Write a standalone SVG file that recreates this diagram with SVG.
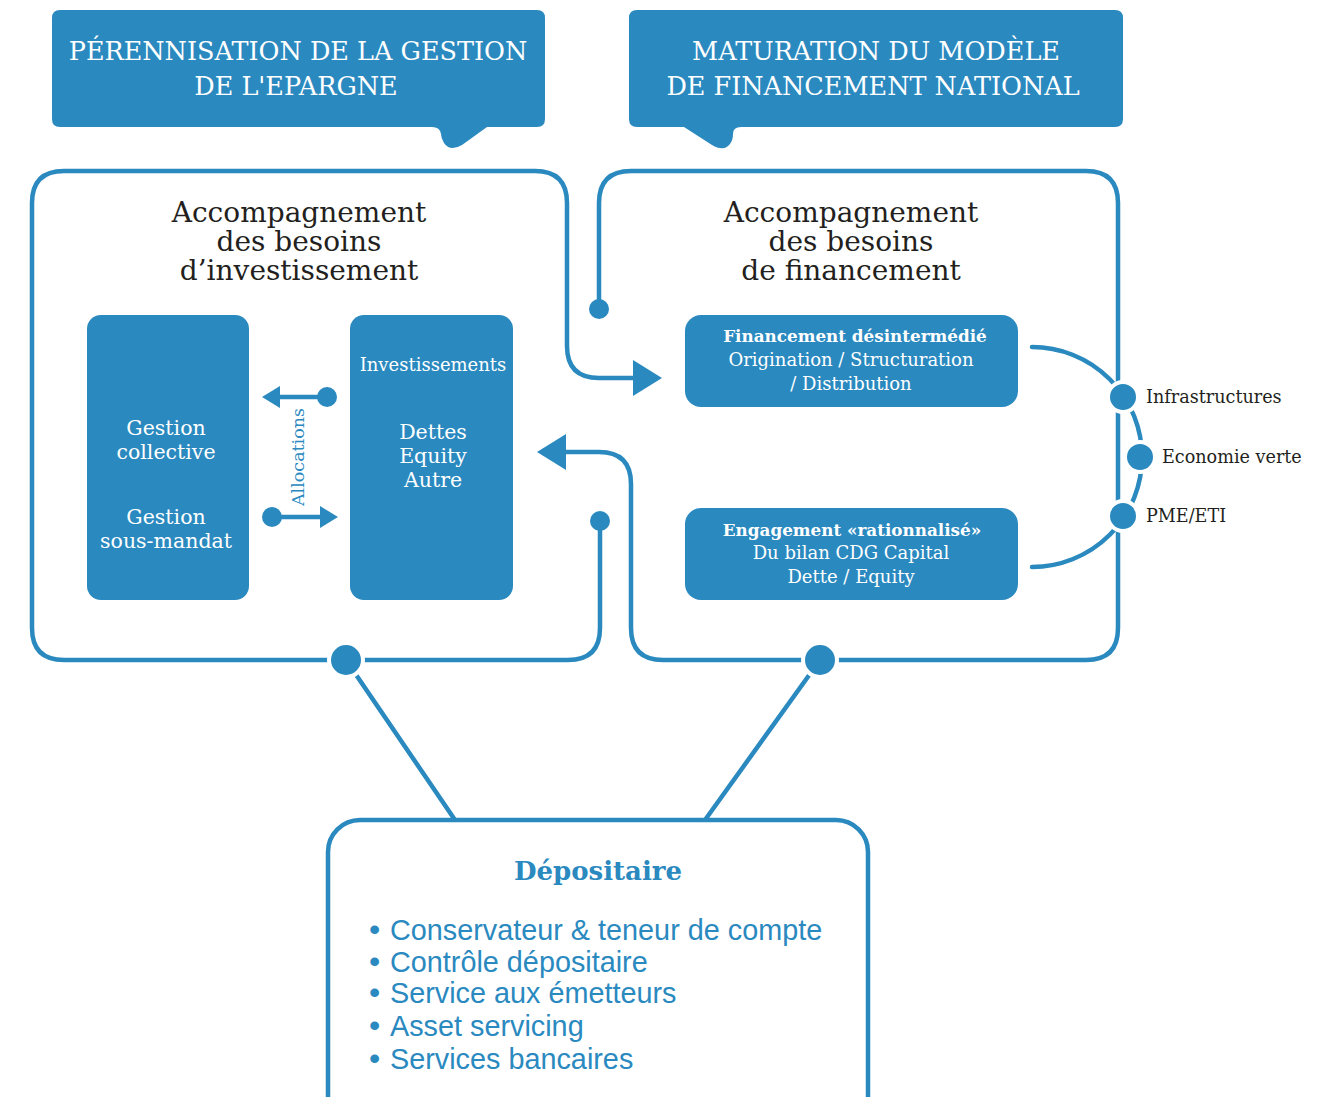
<svg xmlns="http://www.w3.org/2000/svg" width="1328" height="1097" viewBox="0 0 1328 1097">
<style>
.bf{fill:#2a89bf}
.ln{fill:none;stroke:#2a89bf;stroke-width:4.5;stroke-linecap:round;stroke-linejoin:round}
.hd{font-family:"DejaVu Serif",serif;font-size:25.5px;fill:#fff;text-anchor:middle}
.tt{font-family:"DejaVu Serif",serif;font-size:28px;fill:#231f20;text-anchor:middle}
.wt{font-family:"DejaVu Serif",serif;font-size:20.5px;fill:#fff;text-anchor:middle}
.ws{font-family:"DejaVu Serif",serif;font-size:18px;fill:#fff;text-anchor:middle}
.wb{font-family:"DejaVu Serif",serif;font-size:16.8px;font-weight:bold;fill:#fff;text-anchor:middle}
.lb{font-family:"DejaVu Serif",serif;font-size:17.6px;fill:#231f20}
.li{font-family:"Liberation Sans",Arial,sans-serif;font-size:28.8px;fill:#2a89bf}
.bu{font-size:32px}
.dot{fill:#2a89bf;stroke:#fff;stroke-width:4}
</style>
<rect width="1328" height="1097" fill="#fff"/>
<g id="header-left">
<path class="bf" d="M60 10 H537 Q545 10 545 18 V119 Q545 127 537 127 H487 L462 145 Q450 152 444 143 Q441 138 441 134 Q440 127 432 127 H60 Q52 127 52 119 V18 Q52 10 60 10 Z"/>
<text class="hd" x="298" y="60">PÉRENNISATION DE LA GESTION</text>
<text class="hd" x="296" y="95">DE L'EPARGNE</text>
</g>
<g id="header-right">
<path class="bf" d="M637 10 H1115 Q1123 10 1123 18 V119 Q1123 127 1115 127 H741 Q733 127 733 134 Q733 140 730 144 Q724 152 712 145 L684 127 H637 Q629 127 629 119 V18 Q629 10 637 10 Z"/>
<text class="hd" x="876" y="60">MATURATION DU MODÈLE</text>
<text class="hd" x="873" y="95">DE FINANCEMENT NATIONAL</text>
</g>
<g id="connectors">
<path class="ln" d="M600 521 V628 Q600 660 568 660 H64 Q32 660 32 628 V203 Q32 171 64 171 H535 Q567 171 567 203 V346 Q567 378 599 378 H640"/>
<polygon class="bf" points="633,360 662,378 633,396"/>
<path class="ln" d="M599 309 V203 Q599 171 631 171 H1086 Q1118 171 1118 203 V628 Q1118 660 1086 660 H663 Q631 660 631 628 V484 Q631 452 599 452 H560"/>
<polygon class="bf" points="566,434 537,452 566,470"/>
<circle class="bf" cx="599" cy="309" r="10"/>
<circle class="bf" cx="600" cy="521" r="10"/>
<line class="ln" x1="346" y1="660" x2="455" y2="820"/>
<line class="ln" x1="820" y1="660" x2="705" y2="820"/>
<circle class="dot" cx="346" cy="660" r="17"/>
<circle class="dot" cx="820" cy="660" r="17"/>
<path class="ln" d="M1032 347 A110 110 0 0 1 1032 567" stroke-width="5.5" stroke-linecap="butt"/>
<circle class="dot" cx="1123" cy="397" r="15"/>
<circle class="dot" cx="1140" cy="457" r="15"/>
<circle class="dot" cx="1123" cy="516" r="15"/>
<line class="ln" x1="327" y1="397" x2="278" y2="397"/>
<polygon class="bf" points="262,397 280,386 280,408"/>
<circle class="bf" cx="327" cy="397" r="10"/>
<line class="ln" x1="272" y1="517" x2="322" y2="517"/>
<polygon class="bf" points="338,517 320,506 320,528"/>
<circle class="bf" cx="272" cy="517" r="10"/>
<text font-family="DejaVu Serif,serif" font-size="17.5" fill="#2a89bf" text-anchor="middle" transform="translate(304 457) rotate(-90)">Allocations</text>
</g>
<g id="title-left">
<text class="tt" x="299" y="222">Accompagnement</text>
<text class="tt" x="299" y="251">des besoins</text>
<text class="tt" x="299" y="280">d’investissement</text>
</g>
<g id="title-right">
<text class="tt" x="851" y="222">Accompagnement</text>
<text class="tt" x="851" y="251">des besoins</text>
<text class="tt" x="851" y="280">de financement</text>
</g>
<g id="gestion">
<rect class="bf" x="87" y="315" width="162" height="285" rx="14"/>
<text class="wt" x="166" y="435">Gestion</text>
<text class="wt" x="166" y="459">collective</text>
<text class="wt" x="166" y="524">Gestion</text>
<text class="wt" x="166" y="548">sous-mandat</text>
</g>
<g id="investissements">
<rect class="bf" x="350" y="315" width="163" height="285" rx="14"/>
<text class="ws" x="433" y="371">Investissements</text>
<text class="wt" x="433" y="439">Dettes</text>
<text class="wt" x="433" y="463">Equity</text>
<text class="wt" x="433" y="487">Autre</text>
</g>
<g id="financement">
<rect class="bf" x="685" y="315" width="333" height="92" rx="16"/>
<text class="wb" x="855" y="342">Financement désintermédié</text>
<text class="ws" x="851" y="366">Origination / Structuration</text>
<text class="ws" x="851" y="390">/ Distribution</text>
</g>
<g id="engagement">
<rect class="bf" x="685" y="508" width="333" height="92" rx="16"/>
<text class="wb" x="852" y="536">Engagement «rationnalisé»</text>
<text class="ws" x="851" y="559">Du bilan CDG Capital</text>
<text class="ws" x="851" y="583">Dette / Equity</text>
</g>
<g id="labels">
<text class="lb" x="1146" y="403">Infrastructures</text>
<text class="lb" x="1162" y="463">Economie verte</text>
<text class="lb" x="1146" y="522">PME/ETI</text>
</g>
<g id="depositaire">
<rect x="328" y="820" width="540" height="320" rx="32" fill="#fff" stroke="#2a89bf" stroke-width="4.5"/>
<text x="598" y="880" font-family="DejaVu Serif,serif" font-size="26" font-weight="bold" fill="#2a89bf" text-anchor="middle">Dépositaire</text>
<text class="li" x="369" y="940"><tspan class="bu">•</tspan><tspan x="390">Conservateur &amp; teneur de compte</tspan></text>
<text class="li" x="369" y="972"><tspan class="bu">•</tspan><tspan x="390">Contrôle dépositaire</tspan></text>
<text class="li" x="369" y="1003"><tspan class="bu">•</tspan><tspan x="390">Service aux émetteurs</tspan></text>
<text class="li" x="369" y="1036"><tspan class="bu">•</tspan><tspan x="390">Asset servicing</tspan></text>
<text class="li" x="369" y="1069"><tspan class="bu">•</tspan><tspan x="390">Services bancaires</tspan></text>
</g>
</svg>
